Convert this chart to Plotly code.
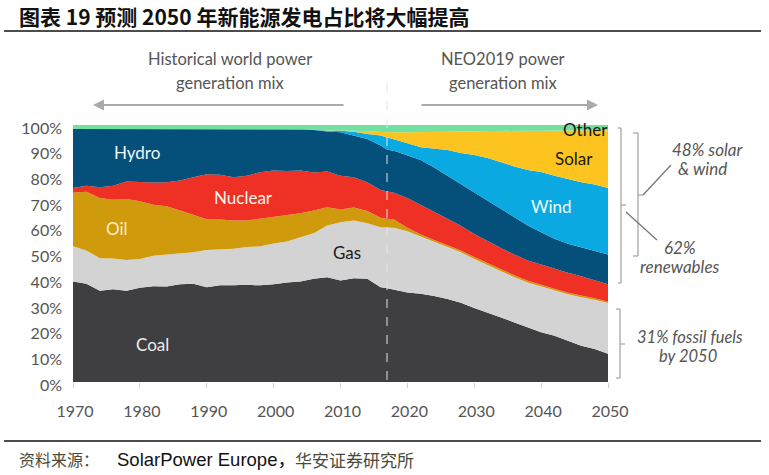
import plotly.graph_objects as go

years = [1970,1972,1974,1976,1978,1980,1982,1984,1986,1988,1990,1992,1994,1996,1998,2000,2002,2004,2006,2008,2010,2012,2014,2016,2017,2018,
         2020,2022,2024,2026,2028,2030,2032,2034,2036,2038,2040,2042,2044,2046,2048,2050]

# Upper edge of each band, in % of generation
coal_top = [39.1,38.2,35.5,36.1,35.5,36.7,37.3,37.2,38.0,38.2,36.9,37.6,37.6,37.8,37.6,38.0,38.7,39.1,40.2,40.8,39.5,40.4,40.2,36.9,36.5,36.0,
            34.8,34.3,33.5,32.3,30.8,28.8,27.1,25.1,23.2,21.4,19.4,18.0,15.9,14.1,12.8,11.0]
gas_top = [52.8,51.2,48.2,48.1,47.5,47.9,49.1,49.5,49.9,50.5,51.4,51.7,51.8,52.5,52.8,53.9,54.7,56.3,57.9,60.9,62.2,62.8,61.8,60.2,60.2,60.0,
           58.7,56.6,54.7,52.7,50.5,47.9,45.5,43.1,40.8,38.7,37.2,35.4,34.1,33.0,32.0,30.7]
oil_top = [73.6,74.0,71.6,70.9,71.2,70.3,69.0,68.4,66.7,65.0,63.3,63.2,62.8,62.8,63.5,64.1,64.8,65.7,66.7,68.0,67.1,67.9,66.5,63.9,63.5,63.2,
           60.0,57.4,55.3,53.2,51.2,48.6,46.2,43.8,41.5,39.4,37.8,36.0,34.7,33.7,32.6,31.2]
nuclear_top = [75.5,76.4,75.8,76.4,78.0,77.7,77.6,77.7,78.4,79.7,80.8,80.6,79.7,80.3,81.6,82.3,82.1,82.3,81.5,81.9,80.3,79.7,77.7,74.7,74.1,73.6,
               71.6,68.9,66.1,63.5,60.8,57.6,54.8,52.1,49.6,47.3,45.7,44.0,42.5,41.1,39.5,38.0]
hydro_top = [98.4,98.4,98.4,98.4,98.4,98.4,98.4,98.4,98.4,98.4,98.2,98.4,98.4,98.4,98.4,98.4,98.4,98.4,98.1,97.5,97.2,95.9,94.6,92.0,90.4,90.0,
             88.3,86.4,83.5,80.3,77.1,73.8,70.6,67.4,64.1,60.9,58.3,55.7,53.8,52.5,51.2,49.6]
wind_top = [98.4,98.4,98.4,98.4,98.4,98.4,98.4,98.4,98.4,98.4,98.2,98.4,98.4,98.4,98.4,98.4,98.4,98.4,98.2,97.8,97.8,97.4,96.5,95.9,95.2,94.3,
            92.9,91.3,90.7,90.3,89.1,88.3,87.2,85.5,83.9,82.5,81.7,80.3,79.0,77.7,76.8,75.5]
solar_top = [98.4,98.4,98.4,98.4,98.4,98.4,98.4,98.4,98.4,98.4,98.2,98.4,98.4,98.4,98.4,98.4,98.4,98.4,98.2,97.9,97.9,97.8,97.7,97.3,97.2,97.2,
             97.2,97.2,97.3,97.4,97.5,97.6,97.6,97.7,97.7,97.8,97.8,97.9,97.9,98.0,98.0,98.0]
other_top = [100]*len(years)

series = [
    ("Coal", coal_top, "#3f3e40"),
    ("Gas", gas_top, "#d4d3d4"),
    ("Oil", oil_top, "#cf9b0c"),
    ("Nuclear", nuclear_top, "#ee3124"),
    ("Hydro", hydro_top, "#04507a"),
    ("Wind", wind_top, "#0aa9e2"),
    ("Solar", solar_top, "#fdc31e"),
    ("Other", other_top, "#72e0a0"),
]
y_ticks = list(range(0, 101, 10))
x_ticks = list(range(1970, 2051, 10))

W, H = 769, 475
L, R, T, B = 73, 608, 125, 382
def px(x): return (x - L) / (R - L)
def py(y): return (B - y) / (B - T)

fig = go.Figure()
for i, (name, top, color) in enumerate(series):
    fig.add_trace(go.Scatter(x=years, y=top, name=name, mode="lines",
                             line=dict(width=0, color=color), fillcolor=color,
                             fill="tozeroy" if i == 0 else "tonexty",
                             hoverinfo="name+x+y", showlegend=False))

GREY = "#555555"
LAT = "Lato, 'Open Sans', sans-serif"
ann = []
def text(x, y, s, size=17, color=GREY, family=LAT, xanchor="center", italic=False):
    ann.append(dict(xref="paper", yref="paper", x=px(x), y=py(y), text=s, showarrow=False,
                    xanchor=xanchor, yanchor="middle",
                    font=dict(size=size, color=color, family=family, style="italic" if italic else "normal")))

# band labels
text(137, 152, "Hydro", color="#f2f6f8")
text(243, 197, "Nuclear", color="#fff4ee")
text(117, 228, "Oil", color="#fbeec4")
text(152, 344, "Coal", color="#ececec")
text(347, 252, "Gas", color="#1c1c1c")
text(551, 206, "Wind", color="#f2fbff")
text(574, 158, "Solar", color="#1c1a10")
text(585, 129, "Other", color="#141a10")

# period headings
text(230, 59, "Historical world power", size=16.5)
text(230, 83, "generation mix", size=16.5)
text(503, 59, "NEO2019 power", size=16.5)
text(503, 83, "generation mix", size=16.5)

# side notes
text(707, 149, "48% solar", size=17, italic=True)
text(702, 168, "&amp; wind", size=17, italic=True)
text(680, 247, "62%", size=17, italic=True)
text(680, 266, "renewables", size=17, italic=True)
text(690, 337, "31% fossil fuels", size=16.5, italic=True)
text(688, 356, "by 2050", size=16.5, italic=True)

# title and source
CJK = "'Noto Sans CJK SC', sans-serif"
text(17, 16, "<b>图表 19 预测 2050 年新能源发电占比将大幅提高</b>", size=21, color="#111111", family=CJK, xanchor="left")
text(17, 459, "资料来源：", size=16, color="#4a4a3a", family=CJK, xanchor="left")
text(115, 459, "SolarPower Europe，", size=18.5, color="#111111",
     family="'Liberation Sans', 'Noto Sans CJK SC', sans-serif", xanchor="left")
text(293, 459, "华安证券研究所", size=17, color="#4a4a3a", family=CJK, xanchor="left")

# arrows
for x0, x1 in [(345, 93), (420, 598)]:
    ann.append(dict(xref="paper", yref="paper", axref="pixel", ayref="pixel",
                    x=px(x1), y=py(105), ax=x0 - x1, ay=0, text="", showarrow=True,
                    arrowhead=2, arrowsize=1.1, arrowwidth=2, arrowcolor="#a9a9a9"))

shapes = []
def seg(x0, y0, x1, y1, color="#a8a8a8", width=1.3, dash="solid"):
    shapes.append(dict(type="line", xref="paper", yref="paper",
                       x0=px(x0), y0=py(y0), x1=px(x1), y1=py(y1),
                       line=dict(color=color, width=width, dash=dash), layer="above"))

# rules
seg(4, 31, 761, 31, color="#111111", width=1.3)
seg(4, 441, 761, 441, color="#111111", width=1.3)
# 2017 divider
seg(387, 83, 387, 382, color="#e4e4e4", width=1, dash="dash")

def bracket(xl, xr, y0, y1, ymid, xtip):
    seg(xl, y0, xr, y0); seg(xr, y0, xr, y1); seg(xl, y1, xr, y1); seg(xr, ymid, xtip, ymid)
bracket(618, 621, 128, 283, 205, 626)
bracket(633, 638, 133, 256, 195, 643)
bracket(616, 620, 309, 378, 344, 625)
seg(643, 195, 671, 165, color="#777777")
seg(626, 212, 657, 240, color="#777777")

fig.update_layout(
    width=W, height=H, autosize=False,
    margin=dict(l=L, r=W - R, t=T, b=H - B, pad=0),
    paper_bgcolor="white", plot_bgcolor="white",
    showlegend=False, annotations=ann, shapes=shapes,
    font=dict(family=LAT, color=GREY),
    xaxis=dict(range=[1970, 2050], tickmode="array", tickvals=x_ticks, ticktext=[str(v) for v in x_ticks],
               showgrid=False, zeroline=False, showline=False, ticks="outside", ticklen=5, tickwidth=1,
               tickcolor="#d0d0d0", tickfont=dict(size=16, color=GREY, family=LAT), ticklabelstandoff=10,
               ticklabelshift=2),
    yaxis=dict(range=[0, 100], tickmode="array", tickvals=y_ticks, ticktext=[f"{v}%" for v in y_ticks],
               showgrid=False, zeroline=False, showline=False, ticks="",
               tickfont=dict(size=16, color=GREY, family=LAT), ticklabelshift=3, ticklabelstandoff=10),
)
fig.write_html("out.html", config=dict(displayModeBar=False),
               post_script="document.body.style.margin='0';")
